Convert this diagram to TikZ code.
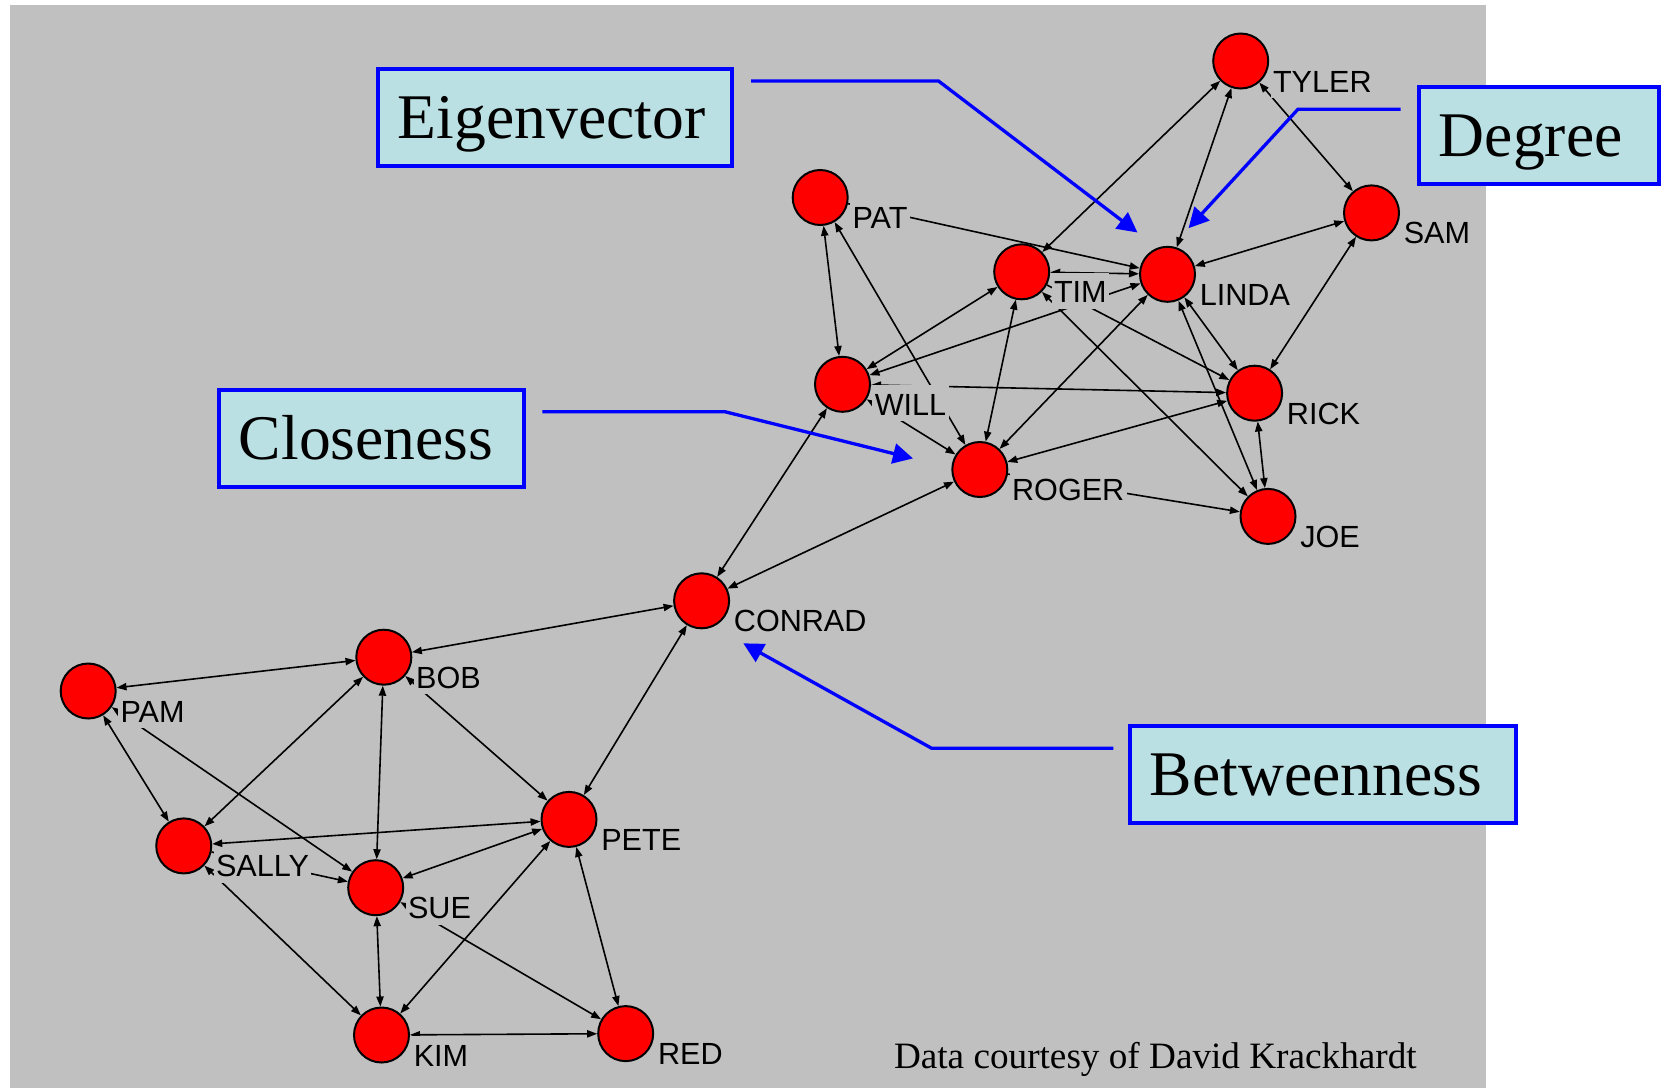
\documentclass[tikz,border=0pt]{standalone}
\usepackage{fontspec}
\setmainfont{Liberation Serif}
\newfontfamily\labfont{Liberation Sans}
\usetikzlibrary{arrows.meta}
\definecolor{bggray}{RGB}{192,192,192}
\definecolor{boxfill}{RGB}{187,224,227}
\definecolor{callblue}{RGB}{0,0,255}
\begin{document}
\begin{tikzpicture}[x=0.5pt,y=-0.5pt,
  person/.style={circle,draw=black,line width=1pt,fill=red,minimum size=27.5pt,inner sep=0pt},
  plabel/.style={anchor=base west,fill=bggray,font=\labfont\fontsize{15.3pt}{18pt}\selectfont,inner xsep=1.2pt,inner ysep=0pt,text height=15pt,text depth=3pt},
  tie/.style={line width=0.8pt,draw=black},
  both/.style={tie,{Triangle[length=5pt,width=3.6pt]}-{Triangle[length=5pt,width=3.6pt]}},
  fwd/.style={tie,-{Triangle[length=5pt,width=3.6pt]}},
  callbox/.style={draw=callblue,line width=2pt,fill=boxfill,inner sep=0pt,minimum height=48.5pt},
  calltext/.style={anchor=west,font=\fontsize{31.8pt}{38pt}\selectfont,inner sep=0pt,text height=21pt,text depth=0pt},
  callarrow/.style={draw=callblue,line width=1.65pt,-{Triangle[length=10pt,width=10pt]}},
  credit/.style={anchor=base west,font=\fontsize{18.6pt}{22pt}\selectfont,inner sep=0pt}
]
\useasboundingbox (0,0) rectangle (1664,1088);
\fill[bggray] (10,5) rectangle (1486,1088);

% people
\node[person] (tyler)  at (1240.7,61)    {};
\node[person] (sam)    at (1371.5,212.9) {};
\node[person] (pat)    at (820.2,197.5)  {};
\node[person] (tim)    at (1021.7,271.8) {};
\node[person] (linda)  at (1167.5,274.3) {};
\node[person] (will)   at (842.5,384.3)  {};
\node[person] (rick)   at (1254.6,393.2) {};
\node[person] (roger)  at (979.8,469.5)  {};
\node[person] (joe)    at (1268,516.4)   {};
\node[person] (conrad) at (701.6,600.8)  {};
\node[person] (bob)    at (383.8,657.2)  {};
\node[person] (pam)    at (88.2,691)     {};
\node[person] (pete)   at (569,819.4)    {};
\node[person] (sally)  at (183.75,845.9) {};
\node[person] (sue)    at (375.7,887.7)  {};
\node[person] (kim)    at (381.5,1035)   {};
\node[person] (red)    at (625.7,1033.6) {};

% ties, upper group
\draw[both] (tyler) -- (tim);
\draw[both] (tyler) -- (linda);
\draw[both] (tyler) -- (sam);
\draw[fwd]  (pat) -- (linda);
\draw[both] (tim) -- (linda);
\draw[both] (will) -- (linda);
\draw[both] (tim) -- (will);
\draw[both] (tim) -- (roger);
\draw[both] (linda) -- (sam);
\draw[both] (sam) -- (rick);
\draw[both] (linda) -- (rick);
\draw[both] (linda) -- (joe);
\draw[both] (linda) -- (roger);
\draw[both] (rick) -- (joe);
\draw[both] (rick) -- (roger);
\draw[both] (will) -- (rick);
\draw[both] (will) -- (roger);
\draw[both] (pat) -- (will);
\draw[both] (pat) -- (roger);
\draw[fwd]  (roger) -- (joe);
\draw[both] (will) -- (conrad);
\draw[both] (roger) -- (conrad);
\draw[fwd]  (tim) -- (rick);
\draw[both] (tim) -- (joe);

% ties, lower group
\draw[both] (conrad) -- (bob);
\draw[both] (conrad) -- (pete);
\draw[both] (bob) -- (pam);
\draw[both] (bob) -- (sally);
\draw[both] (bob) -- (sue);
\draw[both] (bob) -- (pete);
\draw[both] (pam) -- (sally);
\draw[both] (pam) -- (sue);
\draw[both] (sally) -- (pete);
\draw[fwd]  (sally) -- (sue);
\draw[both] (sally) -- (kim);
\draw[both] (sue) -- (pete);
\draw[both] (sue) -- (kim);
\draw[both] (pete) -- (kim);
\draw[both] (pete) -- (red);
\draw[both] (kim) -- (red);
\draw[both] (sue) -- (red);

% name labels
\node[plabel] (tylerL)  at ([shift={(29.5,31)}]tyler.center)  {TYLER};
\node[plabel] (samL)    at ([shift={(29.5,31)}]sam.center)    {SAM};
\node[plabel] (patL)    at ([shift={(29.5,31)}]pat.center)    {PAT};
\node[plabel] (timL)    at ([shift={(29.5,31)}]tim.center)    {TIM};
\node[plabel] (lindaL)  at ([shift={(29.5,31)}]linda.center)  {LINDA};
\node[plabel] (willL)   at ([shift={(29.5,31)}]will.center)   {WILL};
\node[plabel] (rickL)   at ([shift={(29.5,31)}]rick.center)   {RICK};
\node[plabel] (rogerL)  at ([shift={(29.5,31)}]roger.center)  {ROGER};
\node[plabel] (joeL)    at ([shift={(29.5,31)}]joe.center)    {JOE};
\node[plabel] (conradL) at ([shift={(29.5,31)}]conrad.center) {CONRAD};
\node[plabel] (bobL)    at ([shift={(29.5,31)}]bob.center)    {BOB};
\node[plabel] (pamL)    at ([shift={(29.5,31)}]pam.center)    {PAM};
\node[plabel] (peteL)   at ([shift={(29.5,31)}]pete.center)   {PETE};
\node[plabel] (sallyL)  at ([shift={(29.5,31)}]sally.center)  {SALLY};
\node[plabel] (sueL)    at ([shift={(29.5,31)}]sue.center)    {SUE};
\node[plabel] (kimL)    at ([shift={(29.5,31)}]kim.center)    {KIM};
\node[plabel] (redL)    at ([shift={(29.5,31)}]red.center)    {RED};

\node[credit] (creditL) at (893.6,1068) {Data courtesy of David Krackhardt};

% callout boxes
\node[callbox,minimum width=177pt]   (eigbox) at (555,117.5)   {};
\node[calltext] (eigtext) at ([xshift=10.75pt]eigbox.west) {Eigenvector};
\node[callbox,minimum width=120pt]   (degbox) at (1539,135.5)  {};
\node[calltext] (degtext) at ([xshift=10.75pt]degbox.west) {Degree};
\node[callbox,minimum width=152.5pt] (clobox) at (371.5,438.5) {};
\node[calltext] (clotext) at ([xshift=10.75pt]clobox.west) {Closeness};
\node[callbox,minimum width=193pt]   (betbox) at (1323,774.5)  {};
\node[calltext] (bettext) at ([xshift=10.75pt]betbox.west) {Betweenness};

% callout arrows
\coordinate (eigS) at (751,81);
\coordinate (eigB) at (938.5,81);
\coordinate (eigT) at (1137.5,232.5);
\coordinate (degS) at (1400.5,109.3);
\coordinate (degB) at (1297.9,109.3);
\coordinate (degT) at (1188.5,228.2);
\coordinate (cloS) at (542.3,411.7);
\coordinate (cloB) at (724.8,411.7);
\coordinate (cloT) at (913,458.4);
\coordinate (betS) at (1113.3,748.3);
\coordinate (betB) at (931.7,748.3);
\coordinate (betT) at (743.3,643.3);
\draw[callarrow] (eigS) -- (eigB) -- (eigT);
\draw[callarrow] (degS) -- (degB) -- (degT);
\draw[callarrow] (cloS) -- (cloB) -- (cloT);
\draw[callarrow] (betS) -- (betB) -- (betT);
\end{tikzpicture}
\end{document}
